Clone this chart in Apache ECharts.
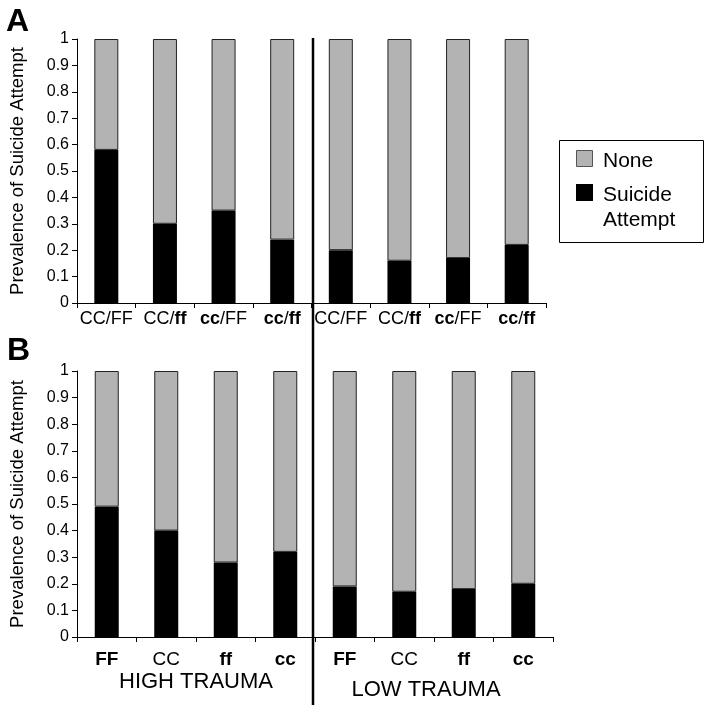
<!DOCTYPE html>
<html><head><meta charset="utf-8">
<script src="https://cdn.jsdelivr.net/npm/echarts@6/dist/echarts.min.js"></script>
<style>html,body{margin:0;padding:0;background:#fff}#c{width:713px;height:713px}</style>
</head><body><div id="c"></div>
<script>
// Panel A: combined genotypes
const catsA = ['CC/FF', 'CC/ff', 'cc/FF', 'cc/ff', 'CC/FF', 'CC/ff', 'cc/FF', 'cc/ff'];
const attemptA = [0.58, 0.30, 0.35, 0.24, 0.20, 0.16, 0.17, 0.22];
const noneA = [0.42, 0.70, 0.65, 0.76, 0.80, 0.84, 0.83, 0.78];
// Panel B: single genotypes
const catsB = ['FF', 'CC', 'ff', 'cc', 'FF', 'CC', 'ff', 'cc'];
const attemptB = [0.49, 0.40, 0.28, 0.32, 0.19, 0.17, 0.18, 0.20];
const noneB = [0.51, 0.60, 0.72, 0.68, 0.81, 0.83, 0.82, 0.80];
const groupLabels = ['HIGH TRAUMA', 'LOW TRAUMA'];
const seriesNames = ['None', 'Suicide Attempt'];
const yTitle = 'Prevalence of Suicide Attempt';

const FONT = '"Liberation Sans", Arial, sans-serif';
const GRAY = '#b3b3b3';

function labelFmtA(v) {
  return v.replace(/([a-z]+)|([^a-z]+)/g, (m, lo, up) => lo ? '{b|' + lo + '}' : '{n|' + up + '}');
}
function labelFmtB(v) {
  return v === 'CC' ? '{n|' + v + '}' : '{b|' + v + '}';
}
function rich(size) {
  return {
    n: { fontSize: size, fontFamily: FONT, color: '#000' },
    b: { fontSize: size, fontFamily: FONT, color: '#000', fontWeight: 'bold' }
  };
}
function xAxis(idx, cats, fmt, size, margin) {
  return {
    type: 'category', gridIndex: idx, data: cats,
    axisLine: { lineStyle: { color: '#000', width: 1 } },
    axisTick: { show: true, length: 5, interval: 0, lineStyle: { color: '#000' } },
    axisLabel: { interval: 0, margin: margin, formatter: fmt, rich: rich(size) }
  };
}
function yAxis(idx) {
  return {
    type: 'value', gridIndex: idx, min: 0, max: 1, interval: 0.1,
    name: yTitle, nameLocation: 'middle', nameRotate: 90, nameGap: 50,
    nameTextStyle: { fontSize: 18.5, fontFamily: FONT, color: '#000' },
    axisLine: { show: true, lineStyle: { color: '#000', width: 1 } },
    axisTick: { show: true, length: 5, lineStyle: { color: '#000' } },
    axisLabel: { fontSize: 16, fontFamily: FONT, color: '#000', margin: 8 },
    splitLine: { show: false }
  };
}
function bars(idx, att, none) {
  return [
    { name: seriesNames[1], type: 'bar', stack: 's' + idx, xAxisIndex: idx, yAxisIndex: idx,
      barWidth: 24, data: att, itemStyle: { color: '#000' }, silent: true },
    { name: seriesNames[0], type: 'bar', stack: 's' + idx, xAxisIndex: idx, yAxisIndex: idx,
      barWidth: 24, data: none, itemStyle: { color: GRAY, borderColor: '#222', borderWidth: 1 }, silent: true }
  ];
}

const chart = echarts.init(document.getElementById('c'), null, { renderer: 'canvas' });
chart.setOption({
  animation: false,
  backgroundColor: '#fff',
  grid: [
    { left: 76, right: 167, top: 39, bottom: 410 },
    { left: 77, right: 160, top: 371, bottom: 76 }
  ],
  xAxis: [xAxis(0, catsA, labelFmtA, 18, 7), xAxis(1, catsB, labelFmtB, 19, 13)],
  yAxis: [yAxis(0), yAxis(1)],
  series: [...bars(0, attemptA, noneA), ...bars(1, attemptB, noneB)],
  graphic: [
    { type: 'line', shape: { x1: 313, y1: 38, x2: 313, y2: 705 }, style: { stroke: '#000', lineWidth: 2.5 } },
    { type: 'text', x: 6, y: 6, style: { text: 'A', font: 'bold 32px ' + FONT, fill: '#000' } },
    { type: 'text', x: 7, y: 335, style: { text: 'B', font: 'bold 32px ' + FONT, fill: '#000' } },
    { type: 'text', x: 196, y: 682, style: { text: groupLabels[0], font: '22px ' + FONT, fill: '#000', align: 'center', verticalAlign: 'middle' } },
    { type: 'text', x: 426, y: 690, style: { text: groupLabels[1], font: '22px ' + FONT, fill: '#000', align: 'center', verticalAlign: 'middle' } },
    // legend
    { type: 'rect', shape: { x: 559.5, y: 140.5, width: 144, height: 102 }, style: { fill: '#fff', stroke: '#000', lineWidth: 1 } },
    { type: 'rect', shape: { x: 576.5, y: 150.5, width: 16, height: 16 }, style: { fill: GRAY, stroke: '#555', lineWidth: 1 } },
    { type: 'rect', shape: { x: 576, y: 184, width: 17, height: 17 }, style: { fill: '#000' } },
    { type: 'text', x: 603, y: 161, style: { text: seriesNames[0], font: '21px ' + FONT, fill: '#000', verticalAlign: 'middle' } },
    { type: 'text', x: 603, y: 182.5, style: { text: 'Suicide\nAttempt', font: '21px ' + FONT, lineHeight: 25, fill: '#000', verticalAlign: 'top' } }
  ]
});
</script>
</body></html>
